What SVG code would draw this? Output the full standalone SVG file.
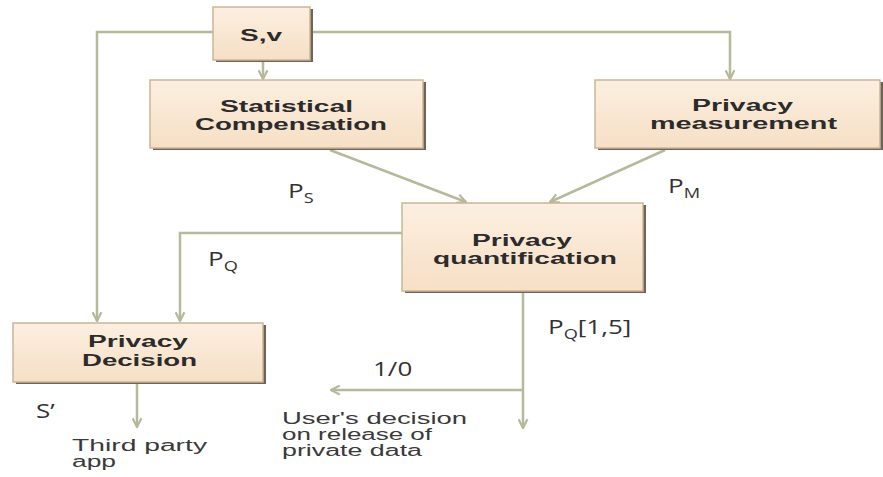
<svg xmlns="http://www.w3.org/2000/svg" width="883" height="477" viewBox="0 0 883 477">
<defs>
<linearGradient id="boxg" x1="0" y1="0" x2="0" y2="1">
<stop offset="0" stop-color="#fcefe0"/>
<stop offset="1" stop-color="#f6dfc5"/>
</linearGradient>
<marker id="arr" viewBox="0 0 10 10" refX="9" refY="5" markerWidth="11" markerHeight="11" markerUnits="userSpaceOnUse" orient="auto">
<path d="M1,1 L9,5 L1,9" fill="none" stroke="#b6b99b" stroke-width="2"/>
</marker>
</defs>
<style>
.shadow{fill:#6f6357}
.box{fill:url(#boxg);stroke:#c9b698;stroke-width:1.5}
.nt{font-family:"Liberation Sans",Arial,sans-serif;font-weight:bold;font-size:16px;fill:#2b2b2b}
.lb{font-family:"Open Sans","Liberation Sans",sans-serif;font-size:20px;fill:#333}
.sub{font-size:14px}
.ut{font-family:"Liberation Sans",Arial,sans-serif;font-size:16px;fill:#3a3a3a}
.conn{fill:none;stroke:#b6b99b;stroke-width:2.5}
</style>
<rect width="883" height="477" fill="#ffffff"/>
<g id="connectors">
<path class="conn" d="M213,32 H97 V321" marker-end="url(#arr)"/>
<path class="conn" d="M310,32 H730 V79" marker-end="url(#arr)"/>
<path class="conn" d="M263,60 V79" marker-end="url(#arr)"/>
<path class="conn" d="M330,150 L466,202" marker-end="url(#arr)"/>
<path class="conn" d="M665,150 L550,202" marker-end="url(#arr)"/>
<path class="conn" d="M402,233 H180 V321" marker-end="url(#arr)"/>
<path class="conn" d="M523,291 V428" marker-end="url(#arr)"/>
<path class="conn" d="M523,390 H331" marker-end="url(#arr)"/>
<path class="conn" d="M137,383 V427" marker-end="url(#arr)"/>
</g>
<g id="node-sv">
<rect class="shadow" x="216" y="9" width="97" height="53"/>
<rect class="box" x="213" y="7" width="97" height="53"/>
<text class="nt" x="240" y="41" font-size="20" textLength="42" lengthAdjust="spacingAndGlyphs">S,v</text>
</g>
<g id="node-stat">
<rect class="shadow" x="153" y="82" width="273" height="68"/>
<rect class="box" x="150" y="80" width="273" height="68"/>
<text class="nt" x="220" y="112" textLength="133" lengthAdjust="spacingAndGlyphs">Statistical</text>
<text class="nt" x="195" y="130" textLength="192" lengthAdjust="spacingAndGlyphs">Compensation</text>
</g>
<g id="node-meas">
<rect class="shadow" x="598" y="82" width="287" height="68"/>
<rect class="box" x="595" y="80" width="285" height="68"/>
<text class="nt" x="692" y="111" textLength="101" lengthAdjust="spacingAndGlyphs">Privacy</text>
<text class="nt" x="650" y="129" textLength="187" lengthAdjust="spacingAndGlyphs">measurement</text>
</g>
<g id="node-quant">
<rect class="shadow" x="405" y="205" width="241" height="88"/>
<rect class="box" x="402" y="203" width="241" height="88"/>
<text class="nt" x="472" y="246" textLength="100" lengthAdjust="spacingAndGlyphs">Privacy</text>
<text class="nt" x="433" y="264" textLength="184" lengthAdjust="spacingAndGlyphs">quantification</text>
</g>
<g id="node-decision">
<rect class="shadow" x="16" y="325" width="250" height="59"/>
<rect class="box" x="13" y="323" width="250" height="59"/>
<text class="nt" x="88" y="347" textLength="100" lengthAdjust="spacingAndGlyphs">Privacy</text>
<text class="nt" x="82" y="366" textLength="115" lengthAdjust="spacingAndGlyphs">Decision</text>
</g>
<g id="labels">
<text class="lb" transform="translate(288,198) scale(1.3,1)">P<tspan class="sub" dy="5">S</tspan></text>
<text class="lb" transform="translate(668,193) scale(1.3,1)">P<tspan class="sub" dy="5">M</tspan></text>
<text class="lb" transform="translate(208,266) scale(1.3,1)">P<tspan class="sub" dy="5">Q</tspan></text>
<text class="lb" transform="translate(548,334) scale(1.3,1)">P<tspan class="sub" dy="5">Q</tspan><tspan dy="-5">[1,5]</tspan></text>
<text class="lb" transform="translate(373,376) scale(1.3,1)">1/0</text>
<text class="lb" transform="translate(36,418) scale(1.3,1)">S’</text>
<text class="ut" x="282" y="424" textLength="185" lengthAdjust="spacingAndGlyphs">User's decision</text>
<text class="ut" x="282" y="440" textLength="150" lengthAdjust="spacingAndGlyphs">on release of</text>
<text class="ut" x="282" y="456" textLength="140" lengthAdjust="spacingAndGlyphs">private data</text>
<text class="ut" x="72" y="451" textLength="135" lengthAdjust="spacingAndGlyphs">Third party</text>
<text class="ut" x="72" y="467" textLength="44" lengthAdjust="spacingAndGlyphs">app</text>
</g>
</svg>
